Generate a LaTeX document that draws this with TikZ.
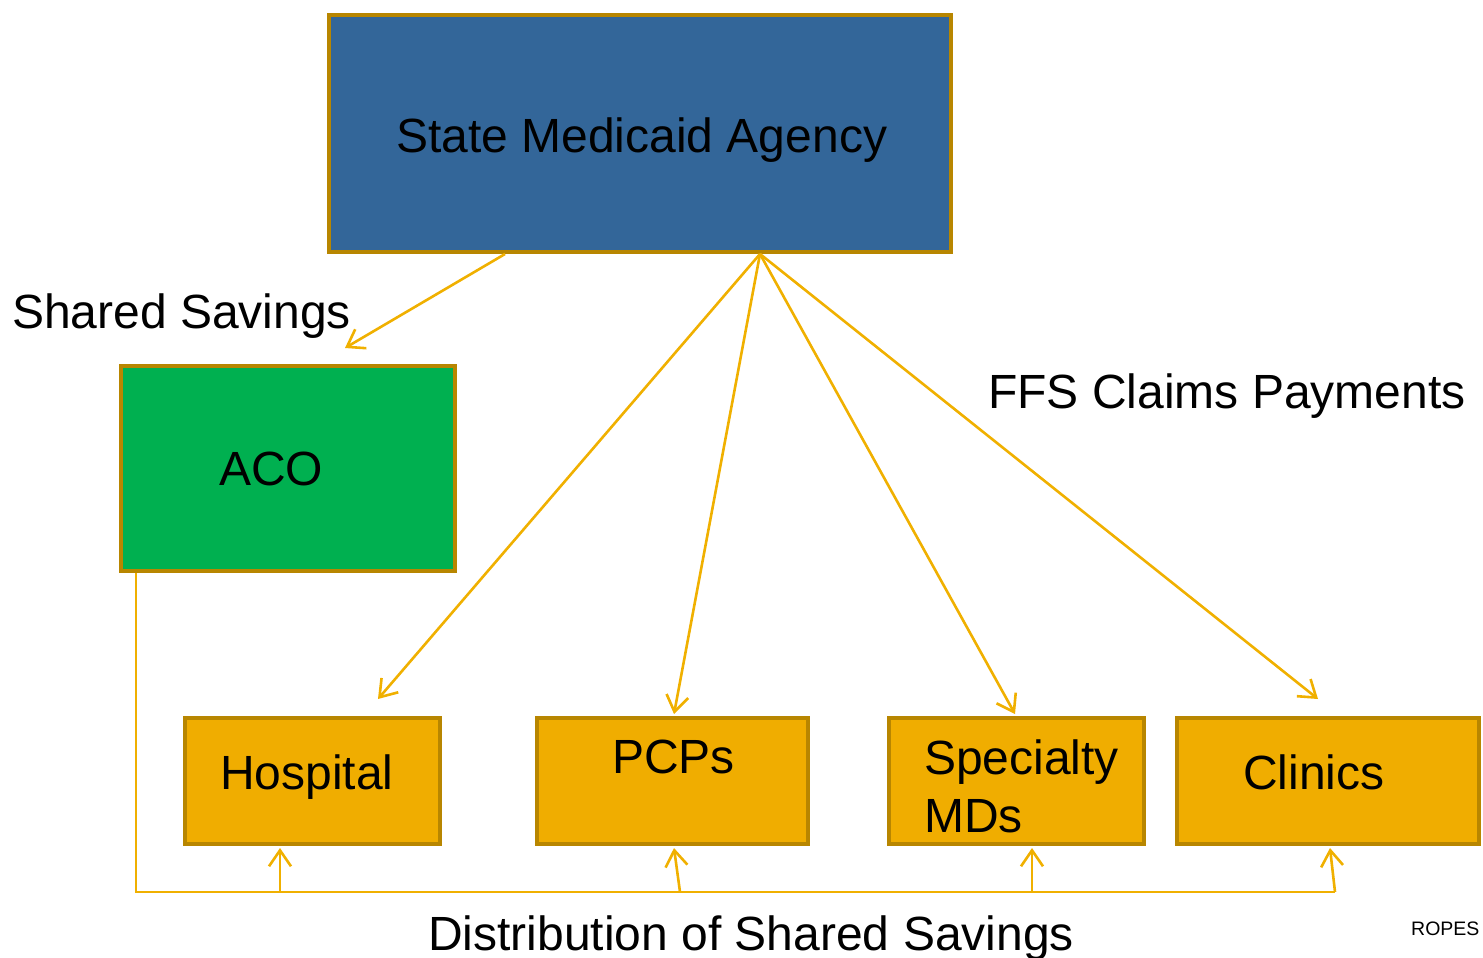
\documentclass[tikz,border=0pt]{standalone}
\usepackage{fontspec}
\setmainfont{Liberation Sans}
\usetikzlibrary{arrows.meta}
\definecolor{gold}{RGB}{184,134,0}
\definecolor{agencyblue}{RGB}{51,102,153}
\definecolor{acogreen}{RGB}{0,176,80}
\definecolor{provorange}{RGB}{240,173,0}
\definecolor{arrowyellow}{RGB}{240,176,0}
\tikzset{
  box/.style={draw=gold, line width=4pt, inner sep=0pt, outer sep=0pt},
  lbl/.style={inner sep=0pt, anchor=base west, font=\fontsize{48}{50}\selectfont},
  conn/.style={draw=arrowyellow, line width=2.6pt},
  arr/.style={conn, -{Straight Barb[length=16pt,width=22pt,line width=2.6pt]}},
}
\begin{document}
\begin{tikzpicture}[x=1pt,y=-1pt]
\useasboundingbox (0,0) rectangle (1483,958);
% boxes
\draw[box, fill=agencyblue] (329,15) rectangle (951,252);
\coordinate (agencyL) at (505,254);
\coordinate (agencyR) at (760,254);
\node[box, fill=acogreen, minimum width=334pt, minimum height=205pt, anchor=north west] (aco) at (121,366) {};
\node[box, fill=provorange, minimum width=255pt, minimum height=126pt, anchor=north west] (hosp) at (185,718) {};
\node[box, fill=provorange, minimum width=271pt, minimum height=126pt, anchor=north west] (pcp) at (537,718) {};
\node[box, fill=provorange, minimum width=255pt, minimum height=126pt, anchor=north west] (spec) at (889,718) {};
\node[box, fill=provorange, minimum width=302pt, minimum height=126pt, anchor=north west] (clin) at (1177,718) {};
% texts
\node[lbl] (tagency) at (396,152) {State Medicaid Agency};
\node[lbl] (taco) at (219,485) {ACO};
\node[lbl] (tshared) at (12,328) {Shared Savings};
\node[lbl] (tffs) at (988,408) {FFS Claims Payments};
\node[lbl] (thosp) at (220,789) {Hospital};
\node[lbl] (tpcp) at (612,773) {PCPs};
\node[lbl] (tspec1) at (924,774) {Specialty};
\node[lbl] (tspec2) at (924,832) {MDs};
\node[lbl] (tclin) at (1243,789) {Clinics};
\node[lbl] (tdist) at (428,950) {Distribution of Shared Savings};
\node[inner sep=0pt, anchor=base west, font=\fontsize{19.5}{22}\selectfont] (tropes) at (1411,935) {ROPES};
% top arrows
\coordinate (acoin) at (345,348);
\coordinate (hospin) at (378,699);
\coordinate (pcpin) at (674,714);
\coordinate (specin) at (1015,714);
\coordinate (clinin) at (1318,699);
\draw[arr] (agencyL) -- (acoin);
\draw[arr] (agencyR) -- (hospin);
\draw[arr] (agencyR) -- (pcpin);
\draw[arr] (agencyR) -- (specin);
\draw[arr] (agencyR) -- (clinin);
% distribution lines
\coordinate (acoout) at (136,573);
\coordinate (b0) at (136,892);
\coordinate (b1) at (280,892);
\coordinate (b2) at (680,892);
\coordinate (b3) at (1032,892);
\coordinate (b4) at (1335,892);
\draw[conn] (acoout) -- (b0) -- (b4);
\draw[arr] (b1) -- (280,848);
\draw[arr] (b2) -- (674,848);
\draw[arr] (b3) -- (1032,848);
\draw[arr] (b4) -- (1330,848);
\end{tikzpicture}
\end{document}
